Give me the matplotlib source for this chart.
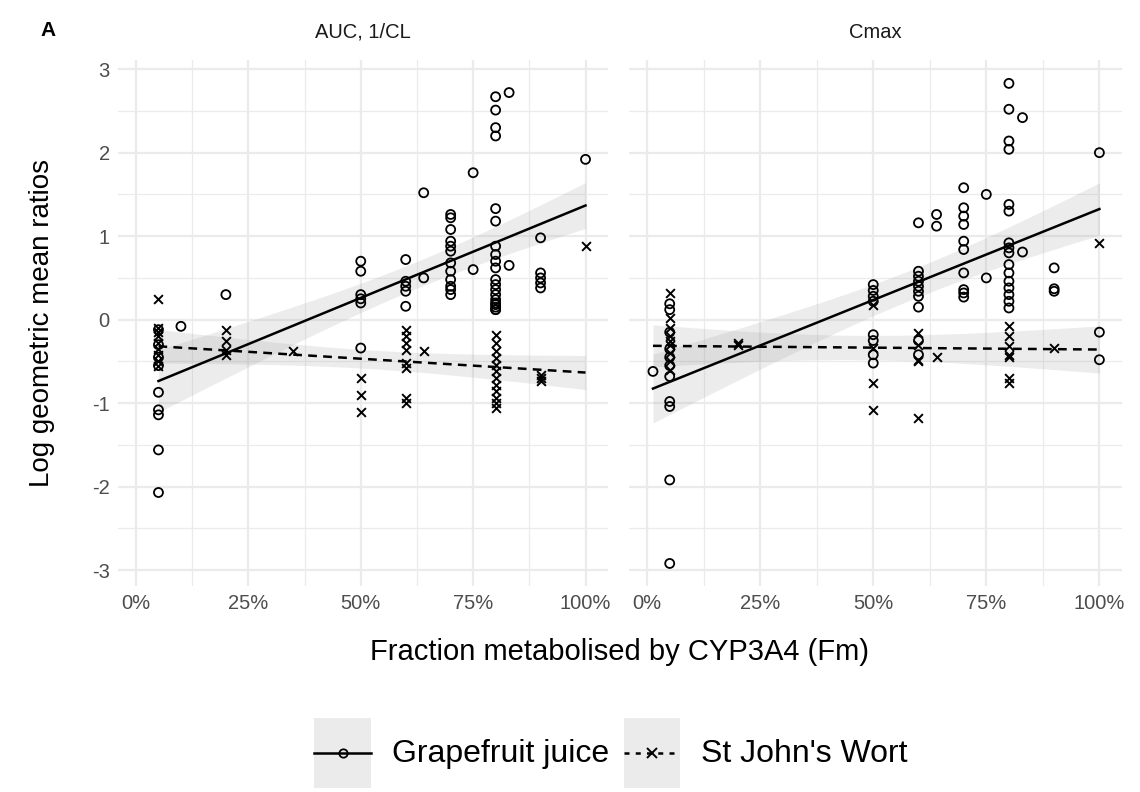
import numpy as np
import matplotlib
matplotlib.use("Agg")
import matplotlib.pyplot as plt
from matplotlib.lines import Line2D
from matplotlib.patches import Patch
from matplotlib.legend_handler import HandlerTuple, HandlerLine2D
from matplotlib.ticker import FixedLocator, PercentFormatter

plt.rcParams['font.family'] = ['Liberation Sans', 'DejaVu Sans']
plt.rcParams['axes.unicode_minus'] = False

panels = ["AUC, 1/CL", "Cmax"]
series = ["Grapefruit juice", "St John's Wort"]

# ---- data: fraction metabolised (%) -> log GMR values ----
auc_gj = {
    5: [-0.12, -0.3, -0.45, -0.55, -0.87, -1.08, -1.14, -1.56, -2.07],
    10: [-0.08],
    20: [0.3],
    50: [0.7, 0.58, 0.3, 0.25, 0.2, -0.34],
    60: [0.72, 0.46, 0.4, 0.34, 0.16],
    64: [1.52, 0.5],
    70: [1.26, 1.22, 1.08, 0.94, 0.88, 0.82, 0.68, 0.58, 0.48, 0.4, 0.36, 0.3],
    75: [1.76, 0.6],
    80: [2.67, 2.51, 2.3, 2.2, 1.33, 1.18, 0.88, 0.78, 0.7, 0.62, 0.48, 0.42,
         0.36, 0.3, 0.24, 0.2, 0.18, 0.15, 0.12, 0.12],
    83: [2.72, 0.65],
    90: [0.98, 0.56, 0.5, 0.44, 0.38],
    100: [1.92],
}
auc_sjw = {
    5: [0.25, -0.1, -0.15, -0.2, -0.28, -0.35, -0.42, -0.5, -0.55],
    20: [-0.12, -0.26, -0.36, -0.42],
    35: [-0.37],
    50: [-0.7, -0.9, -1.1],
    60: [-0.12, -0.2, -0.28, -0.36, -0.52, -0.58, -0.94, -1.0],
    64: [-0.38],
    80: [-0.18, -0.28, -0.38, -0.46, -0.54, -0.62, -0.7, -0.78, -0.86, -0.94,
         -1.0, -1.06],
    90: [-0.66, -0.7, -0.74],
    100: [0.88],
}
cmax_gj = {
    1.3: [-0.62],
    5: [0.19, 0.12, -0.15, -0.35, -0.45, -0.55, -0.68, -0.98, -1.04, -1.92, -2.92],
    50: [0.42, 0.35, 0.28, 0.22, -0.18, -0.25, -0.42, -0.52],
    60: [1.16, 0.58, 0.52, 0.46, 0.4, 0.34, 0.28, 0.15, -0.25, -0.42],
    64: [1.26, 1.12],
    70: [1.58, 1.34, 1.24, 1.14, 0.94, 0.84, 0.56, 0.36, 0.32, 0.27],
    75: [1.5, 0.5],
    80: [2.83, 2.52, 2.14, 2.04, 1.38, 1.3, 0.92, 0.86, 0.8, 0.66, 0.56, 0.46,
         0.38, 0.3, 0.22, 0.14],
    83: [2.42, 0.81],
    90: [0.62, 0.37, 0.34],
    100: [2.0, -0.15, -0.48],
}
cmax_sjw = {
    5: [0.32, 0.02, -0.1, -0.2, -0.25, -0.3, -0.4, -0.5, -0.6],
    20: [-0.28, -0.3],
    50: [0.18, -0.34, -0.76, -1.08],
    60: [-0.16, -0.3, -0.48, -0.5, -1.18],
    64: [-0.45],
    80: [-0.08, -0.2, -0.32, -0.42, -0.45, -0.7, -0.76],
    90: [-0.34],
    100: [0.92],
}
panel_data = [(auc_gj, auc_sjw), (cmax_gj, cmax_sjw)]

x_ticks = [0, 0.25, 0.5, 0.75, 1.0]
y_ticks = [-3, -2, -1, 0, 1, 2, 3]


def flatten(d):
    xs, ys = [], []
    for k, vals in d.items():
        for v in vals:
            xs.append(k / 100.0)
            ys.append(v)
    return np.array(xs), np.array(ys)


def lm_band(x, y, xg, tval=1.98):
    n = len(x)
    b, a = np.polyfit(x, y, 1)
    yhat = a + b * xg
    res = y - (a + b * x)
    s = np.sqrt(np.sum(res ** 2) / (n - 2))
    xm = x.mean()
    sxx = np.sum((x - xm) ** 2)
    se = s * np.sqrt(1.0 / n + (xg - xm) ** 2 / sxx)
    return yhat, yhat - tval * se, yhat + tval * se


class CenteredLine(HandlerLine2D):
    def create_artists(self, legend, orig_handle, xdescent, ydescent,
                       width, height, fontsize, trans):
        return super().create_artists(legend, orig_handle, xdescent, ydescent,
                                      width, height - ydescent, fontsize, trans)


W, H = 1140, 792
fig = plt.figure(figsize=(W / 100, H / 100), dpi=100)
fig.patch.set_facecolor('white')

boxes = [(118, 60, 608, 586), (629, 60, 1122, 586)]
grid_col = '#ebebeb'
tick_col = '#4d4d4d'

axes = []
for i, (bx, (gj, sjw)) in enumerate(zip(boxes, panel_data)):
    l, t, r, b = bx
    ax = fig.add_axes([l / W, 1 - b / H, (r - l) / W, (b - t) / H])
    axes.append(ax)
    ax.set_facecolor('white')
    for sp in ax.spines.values():
        sp.set_visible(False)
    ax.set_xlim(-0.04, 1.05)
    ax.set_ylim(-3.19, 3.11)
    ax.xaxis.set_major_locator(FixedLocator(x_ticks))
    ax.xaxis.set_minor_locator(FixedLocator([0.125, 0.375, 0.625, 0.875]))
    ax.yaxis.set_major_locator(FixedLocator(y_ticks))
    ax.yaxis.set_minor_locator(FixedLocator([-2.5, -1.5, -0.5, 0.5, 1.5, 2.5]))
    ax.xaxis.set_major_formatter(PercentFormatter(1.0, decimals=0))
    ax.grid(True, which='major', color=grid_col, lw=1.6, zorder=0)
    ax.grid(True, which='minor', color=grid_col, lw=0.9, zorder=0)
    ax.set_axisbelow(True)
    ax.tick_params(which='both', length=0, labelsize=14.5, colors=tick_col,
                   labelcolor=tick_col, pad=6)
    if i == 1:
        ax.tick_params(axis='y', labelleft=False)

    xg_all = np.concatenate([flatten(gj)[0], flatten(sjw)[0]])
    xs_lo, xs_hi = xg_all.min(), xg_all.max()
    xg = np.linspace(xs_lo, xs_hi, 100)

    for d, mk, ls in [(gj, 'o', '-'), (sjw, 'x', (0, (3.5, 2.5)))]:
        x, y = flatten(d)
        yhat, lo, hi = lm_band(x, y, xg)
        ax.fill_between(xg, lo, hi, color='0.6', alpha=0.18, lw=0, zorder=2)
        ax.plot(xg, yhat, color='black', lw=1.8, ls=ls, zorder=3)
        if mk == 'o':
            ax.scatter(x, y, s=42, facecolors='none', edgecolors='black',
                       linewidths=1.3, zorder=4)
        else:
            ax.scatter(x, y, s=40, marker='x', color='black',
                       linewidths=1.4, zorder=4)

    ax.text(0.5, 1.035, panels[i], transform=ax.transAxes, ha='center',
            va='bottom', fontsize=14.5, color='#1a1a1a')

fig.text(40 / W, 1 - 30 / H, "A", fontsize=15, fontweight='bold',
         ha='left', va='center')
fig.text(620 / W, 1 - 652 / H, "Fraction metabolised by CYP3A4 (Fm)",
         fontsize=21, ha='center', va='center')
fig.text(42 / W, 1 - 323 / H, "Log geometric mean ratios", fontsize=20,
         ha='center', va='center', rotation=90)

bg1 = Patch(facecolor='#ebebeb', edgecolor='none')
bg2 = Patch(facecolor='#ebebeb', edgecolor='none')
h1 = Line2D([], [], color='black', lw=1.8, ls='-', marker='o',
            markerfacecolor='none', markeredgecolor='black', markersize=6,
            markeredgewidth=1.3)
h2 = Line2D([], [], color='black', lw=1.8, ls=(0, (2.0, 2.5)), marker='x',
            markeredgecolor='black', markersize=7, markeredgewidth=1.4)
leg = fig.legend(handles=[(bg1, h1), (bg2, h2)], labels=series,
                 handler_map={tuple: HandlerTuple(ndivide=1, pad=0),
                              Line2D: CenteredLine()},
                 loc='center', bbox_to_anchor=(611 / W, 1 - 753 / H),
                 ncol=2, frameon=False, fontsize=23, handlelength=1.78,
                 handleheight=3.0, handletextpad=0.65, columnspacing=0.45,
                 borderaxespad=0, borderpad=0)

fig.savefig("out.png", dpi=100, facecolor='white')
